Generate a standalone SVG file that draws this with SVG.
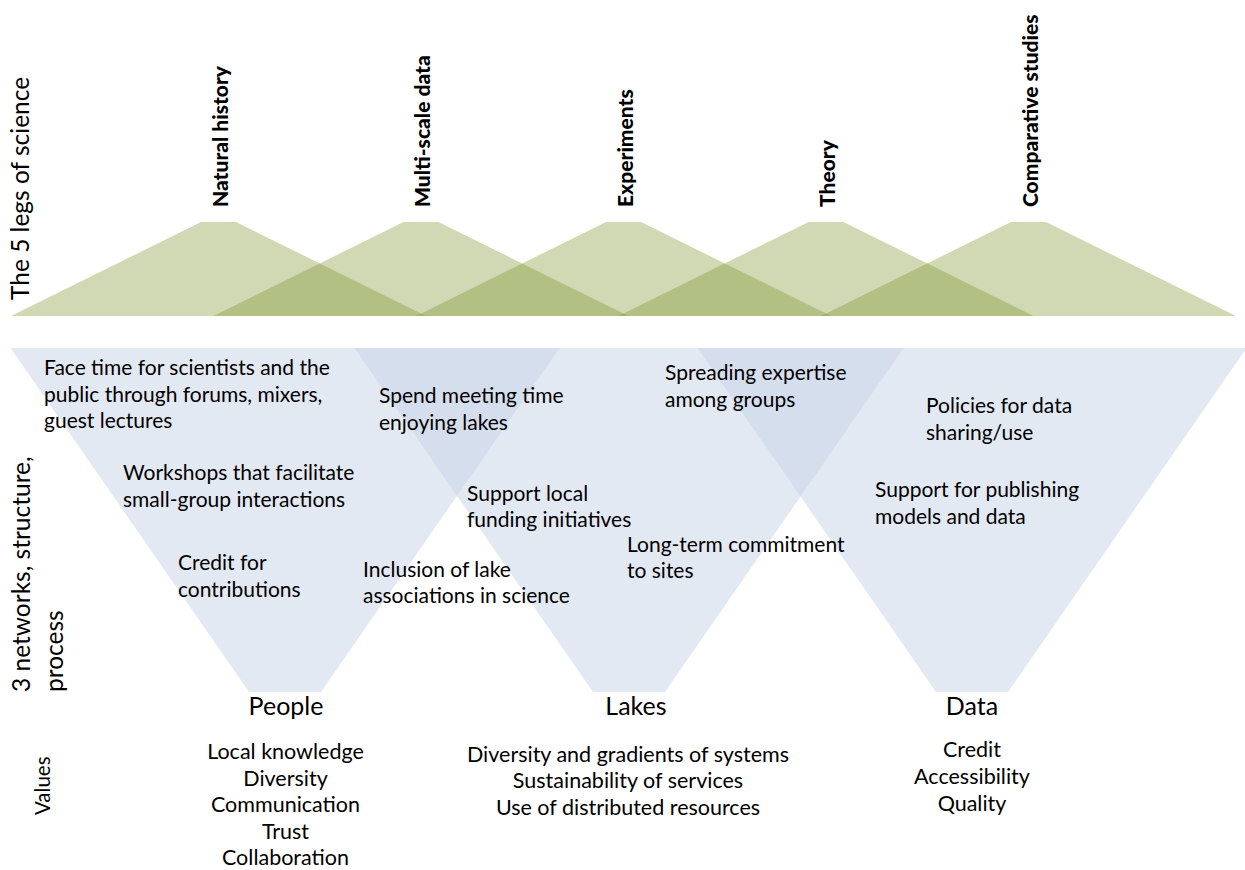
<svg xmlns="http://www.w3.org/2000/svg" width="1245" height="870" viewBox="0 0 1245 870">
  <style>
    .leg { fill: #7c9229; fill-opacity: 0.35; }
    .net { fill: #c7d3e7; fill-opacity: 0.5; }
    text { font-family: Lato, "Liberation Sans", sans-serif; fill: #000; }
    .axis { font-size: 24.5px; }
    .legname { font-size: 21px; font-weight: 900; }
    .item { font-size: 21px; }
    .netname { font-size: 25px; text-anchor: middle; }
    .value { font-size: 21.5px; text-anchor: middle; }
    .vlabel { font-size: 20.5px; }
  </style>

  <rect width="1245" height="870" fill="#ffffff"/>

  <!-- Axis labels -->
  <g id="axis-labels">
    <text class="axis" transform="translate(29,300) rotate(-90)">The 5 legs of science</text>
    <text class="axis" transform="translate(30,692) rotate(-90)">3 networks, structure,</text>
    <text class="axis" transform="translate(63,692) rotate(-90)">process</text>
    <text class="vlabel" transform="translate(50,815) rotate(-90)">Values</text>
  </g>

  <!-- The five legs of science: overlapping trapezoids -->
  <g id="leg-natural-history">
    <polygon class="leg" points="11,316 201,222 236,222 426,316"/>
    <text class="legname" transform="translate(228,207) rotate(-90)">Natural history</text>
  </g>
  <g id="leg-multi-scale-data">
    <polygon class="leg" points="213.5,316 403.5,222 438.5,222 628.5,316"/>
    <text class="legname" transform="translate(430,207) rotate(-90)">Multi-scale data</text>
  </g>
  <g id="leg-experiments">
    <polygon class="leg" points="416,316 606,222 641,222 831,316"/>
    <text class="legname" transform="translate(633,207) rotate(-90)">Experiments</text>
  </g>
  <g id="leg-theory">
    <polygon class="leg" points="618.5,316 808.5,222 843.5,222 1033.5,316"/>
    <text class="legname" transform="translate(835,207) rotate(-90)">Theory</text>
  </g>
  <g id="leg-comparative-studies">
    <polygon class="leg" points="821,316 1011,222 1046,222 1236,316"/>
    <text class="legname" transform="translate(1038,207) rotate(-90)">Comparative studies</text>
  </g>

  <!-- The three networks: overlapping inverted trapezoids -->
  <g id="network-people">
    <polygon class="net" points="10.5,348 559.5,348 321,692 249,692"/>
    <text class="netname" x="286" y="715">People</text>
  </g>
  <g id="network-lakes">
    <polygon class="net" points="354.5,348 903.5,348 665,692 593,692"/>
    <text class="netname" x="636" y="715">Lakes</text>
  </g>
  <g id="network-data">
    <polygon class="net" points="697.5,348 1246.5,348 1008,692 936,692"/>
    <text class="netname" x="972" y="715">Data</text>
  </g>

  <!-- Structure / process items -->
  <g id="items">
    <text class="item" x="44" y="375">Face time for scientists and the<tspan x="44" dy="26.5">public through forums, mixers,</tspan><tspan x="44" dy="26.5">guest lectures</tspan></text>
    <text class="item" x="123" y="480">Workshops that facilitate<tspan x="123" dy="26.5">small-group interactions</tspan></text>
    <text class="item" x="178" y="570">Credit for<tspan x="178" dy="26.5">contributions</tspan></text>
    <text class="item" x="363" y="576.5">Inclusion of lake<tspan x="363" dy="26.5">associations in science</tspan></text>
    <text class="item" x="379" y="403">Spend meeting time<tspan x="379" dy="26.5">enjoying lakes</tspan></text>
    <text class="item" x="467" y="500.5">Support local<tspan x="467" dy="26.5">funding initiatives</tspan></text>
    <text class="item" x="665" y="380">Spreading expertise<tspan x="665" dy="26.5">among groups</tspan></text>
    <text class="item" x="627" y="551.5">Long-term commitment<tspan x="627" dy="26.5">to sites</tspan></text>
    <text class="item" x="926" y="413">Policies for data<tspan x="926" dy="26.5">sharing/use</tspan></text>
    <text class="item" x="875" y="497">Support for publishing<tspan x="875" dy="26.5">models and data</tspan></text>
  </g>

  <!-- Values for each network -->
  <g id="values-people">
    <text class="value" x="285.5" y="759">Local knowledge</text>
    <text class="value" x="285.5" y="786">Diversity</text>
    <text class="value" x="285.5" y="812">Communication</text>
    <text class="value" x="285.5" y="839">Trust</text>
    <text class="value" x="285.5" y="865">Collaboration</text>
  </g>
  <g id="values-lakes">
    <text class="value" x="628" y="762">Diversity and gradients of systems</text>
    <text class="value" x="628" y="788">Sustainability of services</text>
    <text class="value" x="628" y="815">Use of distributed resources</text>
  </g>
  <g id="values-data">
    <text class="value" x="972" y="757">Credit</text>
    <text class="value" x="972" y="784">Accessibility</text>
    <text class="value" x="972" y="811">Quality</text>
  </g>
</svg>
